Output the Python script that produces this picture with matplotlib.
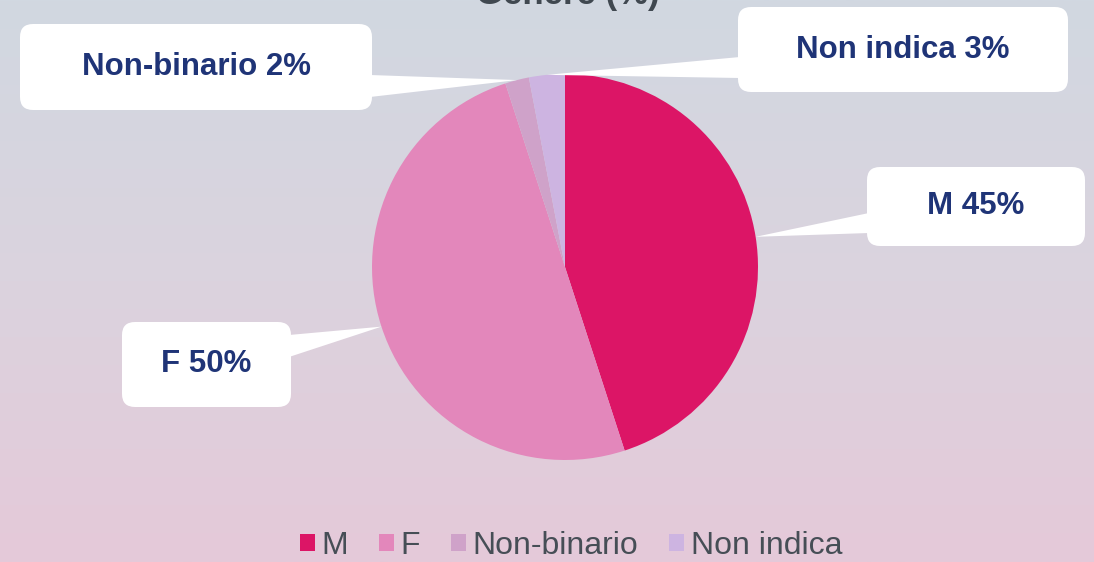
import numpy as np
import matplotlib.pyplot as plt
from matplotlib.patches import FancyBboxPatch, Polygon, Patch
from matplotlib.colors import LinearSegmentedColormap

plt.rcParams['font.family'] = ['Liberation Sans', 'DejaVu Sans']

# dati
categorie = ['M', 'F', 'Non-binario', 'Non indica']
percentuali = [45, 50, 2, 3]
colori = ['#dc1566', '#e387bb', '#cfa2c9', '#cdb4e1']
titolo = 'Genere (%)'

W, H = 1094, 562
fig = plt.figure(figsize=(W / 100, H / 100), dpi=100)
ax = fig.add_axes([0, 0, 1, 1])
ax.axis('off')

# sfondo sfumato (alto grigio-azzurro -> basso rosa)
grad = np.linspace(0, 1, 256).reshape(-1, 1)
cmap_bg = LinearSegmentedColormap.from_list('bg', ['#d1d8e1', '#dbd3de', '#e5c9d9'])
ax.imshow(grad, extent=[0, W, 0, H], origin='upper', aspect='auto', cmap=cmap_bg, zorder=0)

# torta (coordinate in pixel, y dal basso)
cx, cy, R = 565, H - 267, 193
ax.pie(percentuali, colors=colori, startangle=90, counterclock=False,
       center=(cx, cy), radius=R, wedgeprops=dict(linewidth=0))

# punte dei fumetti = centro di ogni fetta sul bordo
cum = np.cumsum(percentuali)
mid = 90 - 360 * (cum - np.array(percentuali) / 2) / 100
tips = [(cx + R * np.cos(np.radians(a)), cy + R * np.sin(np.radians(a))) for a in mid]

# fumetti: (x0, y_top, x1, y_bottom) in pixel dall'alto, lato della base, y della base
boxes = [
    ((867, 167, 1085, 246), 'left', (213, 233)),
    ((122, 322, 291, 407), 'right', (335, 357)),
    ((20, 24, 372, 110), 'right', (75, 97)),
    ((738, 7, 1068, 92), 'left', (57, 78)),
]
navy = '#1f3477'
for (cat, p, tip, (rect, side, (ya, yb))) in zip(categorie, percentuali, tips, boxes):
    x0, yt, x1, yb_box = rect
    bx = x0 + 2 if side == 'left' else x1 - 2
    tri = Polygon([(bx, H - ya), (bx, H - yb), tip], closed=True,
                  facecolor='white', edgecolor='none', zorder=3)
    ax.add_patch(tri)
    rad = 13
    box = FancyBboxPatch((x0 + rad, H - yb_box + rad), (x1 - x0) - 2 * rad, (yb_box - yt) - 2 * rad,
                         boxstyle=f'round,pad={rad}', facecolor='white', edgecolor='none', zorder=4)
    ax.add_patch(box)
    ax.text((x0 + x1) / 2, H - (yt + yb_box) / 2, f'{cat} {p}%', ha='center', va='center',
            fontsize=22.5, fontweight='bold', color=navy, zorder=5)

# titolo (tagliato in alto come nell'originale)
ax.text(568, H - 4, titolo, ha='center', va='baseline', fontsize=25,
        fontweight='bold', color='#404850', zorder=5)

ax.set_xlim(0, W)
ax.set_ylim(0, H)

# legenda
handles = [Patch(facecolor=c, edgecolor='none') for c in colori]
ax.legend(handles, categorie, loc='center', bbox_to_anchor=(571 / W, 1 - 546 / H),
          ncol=4, frameon=False, fontsize=23, handlelength=0.47, handleheight=0.47,
          handletextpad=0.22, columnspacing=0.95, labelcolor='#464e56', borderaxespad=0)

plt.savefig('out.png', dpi=100)
plt.close()
